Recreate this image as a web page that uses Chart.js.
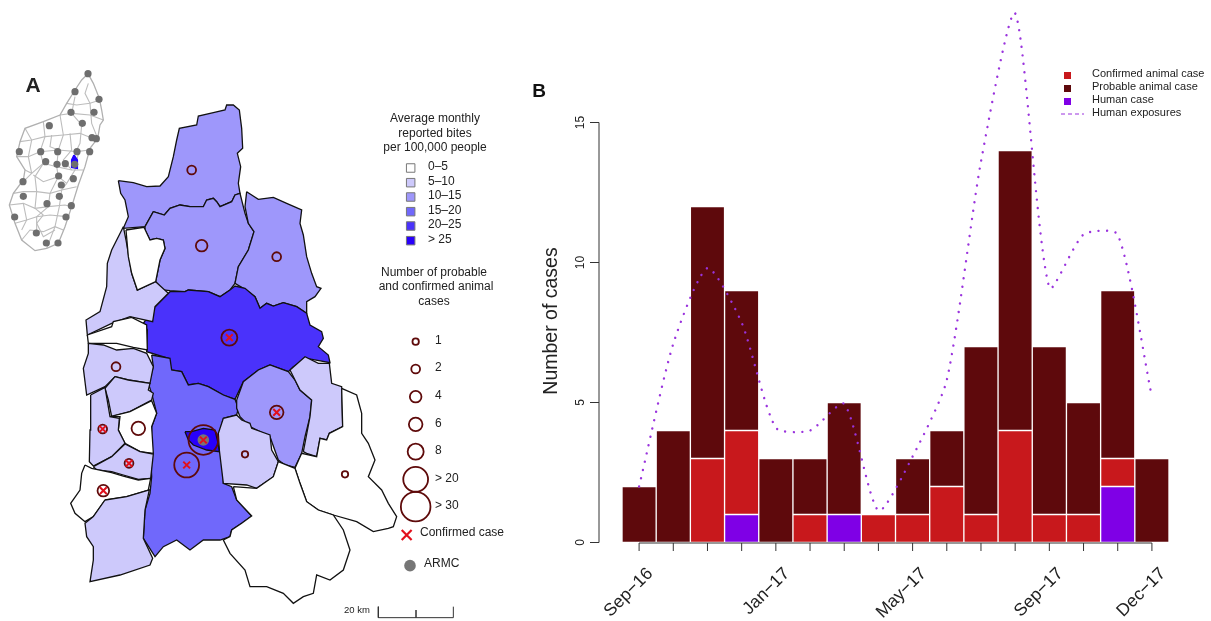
<!DOCTYPE html>
<html>
<head>
<meta charset="utf-8">
<title>Rabies cases</title>
<script src="https://cdn.jsdelivr.net/npm/chart.js@4"></script>
<style>
    html, body { margin: 0; padding: 0; background: #fff; overflow: hidden; }
    canvas { position: absolute; top: 0; }
    #mapChart { left: 0; }
    #casesChart { left: 530px; }
</style>
</head>
<body>
<canvas id="mapChart" width="530" height="621"></canvas>
<canvas id="casesChart" width="681" height="621"></canvas>
<script>
// ---- Panel B data ----
const months = ["Sep-16", "Oct-16", "Nov-16", "Dec-16", "Jan-17", "Feb-17", "Mar-17", "Apr-17",
    "May-17", "Jun-17", "Jul-17", "Aug-17", "Sep-17", "Oct-17", "Nov-17", "Dec-17"];
const humanCases = [0, 0, 0, 1, 0, 0, 1, 0, 0, 0, 0, 0, 0, 0, 2, 0];
const confirmedCases = [0, 0, 3, 3, 0, 1, 0, 1, 1, 2, 1, 4, 1, 1, 1, 0];
const probableCases = [2, 4, 9, 5, 3, 2, 4, 0, 2, 2, 6, 10, 6, 4, 6, 3];
const humanExposures = [2, 7.1, 9.8, 7.85, 4.1, 4, 4.95, 1.14, 3.07, 5.8, 13.6, 18.9, 9.1, 11, 11, 5.2];
const yTicks = [0, 5, 10, 15];
const xTickLabels = { "Sep-16": "Sep\u221216", "Jan-17": "Jan\u221217", "May-17": "May\u221217", "Sep-17": "Sep\u221217", "Dec-17": "Dec\u221217" };

// ---- Panel A data, map units (outlines) ----
const regionNorth = [[355,542],[400,548],[440,560],[480,558],[505,530],[520,470],[530,420],[538,385],[590,375],[595,348],[640,338],[675,330],[680,315],[700,315],[718,330],[725,385],[728,445],[712,460],[722,500],[715,550],[720,580],[705,585],[695,605],[660,620],[650,605],[640,595],[620,600],[610,620],[570,620],[540,615],[510,625],[493,645],[460,635],[435,680],[370,685],[385,650],[375,600],[362,580]];
const regionCentreNorth = [[460,635],[493,645],[510,625],[540,615],[570,620],[610,620],[620,600],[640,595],[650,605],[660,620],[695,605],[705,585],[720,580],[735,640],[745,670],[762,695],[745,750],[715,800],[705,850],[690,870],[660,890],[625,875],[565,870],[555,875],[510,872],[490,870],[467,845],[480,780],[495,745],[490,720],[470,715],[450,720],[435,690],[435,680]];
const regionEast = [[740,575],[755,585],[775,598],[820,592],[860,610],[905,630],[900,670],[910,705],[920,770],[935,820],[950,860],[963,865],[945,890],[920,905],[920,940],[890,920],[850,908],[820,918],[800,910],[780,925],[765,890],[730,865],[705,850],[715,800],[745,750],[762,695],[745,670],[735,620]];
const regionCentre = [[430,970],[465,920],[510,875],[555,875],[565,870],[625,875],[660,890],[690,870],[705,858],[735,865],[765,890],[780,925],[800,910],[820,918],[850,908],[890,920],[920,940],[930,975],[965,995],[970,1015],[955,1040],[985,1065],[990,1088],[920,1075],[880,1100],[865,1115],[810,1095],[775,1110],[730,1145],[705,1198],[670,1185],[625,1160],[595,1150],[565,1155],[545,1115],[510,1110],[505,1075],[440,1055],[442,990]];
const regionSouthCentre = [[455,1065],[510,1075],[515,1110],[545,1115],[565,1155],[595,1150],[625,1160],[670,1185],[705,1198],[715,1225],[710,1245],[670,1255],[658,1300],[660,1350],[670,1410],[670,1450],[695,1460],[710,1500],[755,1548],[725,1570],[695,1590],[690,1610],[660,1620],[610,1620],[570,1650],[530,1620],[490,1640],[465,1670],[430,1615],[435,1530],[450,1480],[455,1430],[452,1360],[455,1280],[470,1240],[455,1180],[445,1150],[460,1100]];
const regionCapital = [[555,1295],[575,1295],[610,1285],[645,1290],[652,1320],[658,1355],[620,1350],[580,1335],[565,1320]];
const regionEastCentral = [[710,1200],[730,1145],[775,1110],[810,1095],[865,1115],[885,1140],[900,1170],[935,1200],[930,1250],[915,1310],[905,1360],[885,1402],[855,1395],[835,1380],[810,1310],[750,1280],[720,1250],[710,1225]];
const regionInnerEast = [[670,1255],[710,1245],[725,1260],[750,1270],[755,1285],[810,1305],[815,1350],[835,1385],[820,1430],[770,1465],[740,1455],[670,1450],[658,1350],[655,1300]];
const regionCoastEast = [[870,1110],[915,1070],[955,1090],[988,1090],[995,1150],[1025,1160],[1028,1280],[988,1300],[980,1320],[960,1315],[950,1370],[920,1360],[910,1355],[930,1250],[935,1200],[900,1170],[885,1140]];
const regionFarEast = [[1025,1165],[1070,1185],[1085,1240],[1085,1300],[1105,1330],[1125,1380],[1105,1430],[1145,1470],[1165,1510],[1190,1550],[1180,1580],[1165,1585],[1120,1595],[1070,1565],[1000,1545],[955,1530],[920,1505],[900,1450],[885,1405],[905,1360],[950,1370],[960,1315],[980,1320],[988,1300],[1028,1280]];
const regionSouth = [[700,1460],[770,1465],[820,1430],[835,1385],[885,1405],[900,1450],[920,1505],[955,1530],[1000,1545],[1030,1590],[1050,1650],[1030,1710],[990,1740],[950,1725],[940,1780],[910,1790],[880,1810],[850,1780],[800,1760],[750,1760],[735,1710],[690,1660],[670,1620],[690,1610],[695,1590],[725,1570],[755,1548],[710,1500]];
const regionNorthWest = [[370,680],[378,720],[395,820],[412,870],[467,845],[505,880],[465,920],[458,965],[390,950],[335,970],[262,1005],[258,960],[300,935],[320,860],[322,790],[335,750],[355,710]];
const regionNorthWestInner = [[378,690],[432,682],[450,720],[470,715],[490,720],[495,745],[480,780],[467,845],[412,870],[395,820],[385,770]];
const regionWestBand = [[262,1005],[335,980],[340,965],[395,952],[440,975],[442,1050],[400,1042],[350,1030],[265,1030]];
const regionWestUpper = [[265,1030],[310,1035],[350,1050],[400,1045],[440,1060],[460,1100],[450,1150],[385,1140],[345,1130],[315,1160],[260,1185],[250,1105],[265,1060]];
const regionWestMiddle = [[345,1130],[385,1140],[450,1150],[445,1170],[460,1180],[455,1200],[390,1235],[335,1250],[325,1200],[315,1165]];
const regionWestInner = [[330,1250],[390,1235],[455,1202],[470,1240],[455,1280],[460,1360],[420,1355],[375,1330],[355,1290],[360,1250]];
const regionWestCoast = [[272,1185],[315,1162],[330,1250],[358,1255],[355,1290],[375,1330],[335,1370],[280,1398],[268,1385],[270,1290]];
const regionWestLower = [[280,1400],[335,1370],[375,1332],[420,1355],[460,1362],[452,1435],[415,1438],[370,1425],[335,1415],[290,1410]];
const regionSouthWest = [[255,1395],[275,1405],[335,1418],[370,1428],[415,1440],[452,1435],[445,1470],[380,1490],[315,1500],[280,1550],[255,1565],[225,1540],[212,1510],[240,1470],[245,1420]];
const regionFarSouthWest = [[315,1500],[380,1490],[448,1470],[435,1530],[430,1615],[458,1675],[450,1695],[360,1725],[270,1745],[280,1680],[280,1640],[260,1610],[255,1570],[280,1550]];

// region outline + bite-rate class (index into biteColors)
const mapRegions = [
    [regionNorth, 2], [regionCentreNorth, 2], [regionEast, 2], [regionCentre, 4],
    [regionSouthCentre, 3], [regionEastCentral, 2], [regionInnerEast, 1], [regionCoastEast, 1],
    [regionFarEast, 0], [regionSouth, 0], [regionNorthWest, 1], [regionNorthWestInner, 0],
    [regionWestBand, 0], [regionWestUpper, 1], [regionWestMiddle, 1], [regionWestInner, 0],
    [regionWestCoast, 1], [regionWestLower, 1], [regionSouthWest, 0], [regionFarSouthWest, 1],
    [regionCapital, 5]
];

const biteLabels = ["0\u20135", "5\u201310", "10\u201315", "15\u201320", "20\u201325", "> 25"];
const biteColors = ["#ffffff", "#cdc9fb", "#9e97fb", "#7068fb", "#4a32fb", "#2800fb"];

// animal cases per district
const caseX = [575, 605, 830, 688, 348, 308, 415, 387, 310, 610, 560, 830, 735, 1035];
const caseY = [510, 737, 770, 1013, 1100, 1287, 1285, 1390, 1472, 1320, 1395, 1237, 1363, 1423];
const caseCount = [2, 4, 2, 8, 2, 2, 6, 2, 4, 30, 20, 6, 1, 1];
const caseConfirmed = [0, 0, 0, 1, 0, 1, 0, 1, 1, 1, 1, 1, 0, 0];

const caseClasses = [1, 2, 4, 6, 8, 20, 30];
const caseClassLabels = ["1", "2", "4", "6", "8", "> 20", "> 30"];
const caseRadius = { 1: 3.2, 2: 4.4, 4: 5.8, 6: 6.8, 8: 8, 20: 12.4, 30: 14.8 };

// inset of the whole island
const insetOutline = [[264,221],[280,250],[298,295],[305,330],[310,360],[300,375],[293,415],[270,445],[255,500],[235,555],[215,620],[195,680],[175,730],[140,745],[105,752],[65,720],[45,670],[28,615],[40,580],[70,540],[75,510],[50,470],[60,425],[75,385],[130,365],[180,345],[200,310],[225,270],[245,240],[264,221]];
const insetDistricts = [
    [[75,385],[95,420],[85,470],[95,520],[70,545]],
    [[130,365],[135,410],[120,455],[130,490],[105,530],[110,575]],
    [[180,345],[190,405],[175,450],[170,500],[175,530],[150,580],[145,620],[110,650],[110,700]],
    [[225,290],[215,340],[245,375],[240,430],[225,460]],
    [[60,425],[95,420],[135,410],[190,405],[240,400],[290,420]],
    [[50,470],[85,470],[120,455],[175,450],[230,455],[268,450]],
    [[75,510],[95,520],[130,490],[170,500],[215,510],[250,510]],
    [[40,580],[70,575],[110,575],[150,580],[185,570],[230,560]],
    [[28,615],[70,610],[105,625],[145,620],[195,615],[215,620]],
    [[45,670],[80,660],[110,650],[150,645],[200,650]],
    [[65,720],[90,690],[130,695],[165,680],[190,690]],
    [[200,310],[230,315],[270,310],[300,300]],
    [[180,345],[215,340],[270,345],[310,360]],
    [[265,250],[255,280],[270,310],[275,370],[293,415]],
    [[235,460],[225,510],[200,550],[185,570],[178,620],[165,680],[140,745]],
    [[130,645],[110,670],[130,710],[165,690]],
    [[155,405],[150,440],[175,450]],
    [[100,525],[130,545],[175,530],[200,550]],
    [[70,610],[80,660],[65,690]],
    [[110,575],[105,625],[130,645]],
    [[210,400],[215,450],[190,480],[215,510]]
];
const insetHighlight = [[222,465],[232,480],[232,505],[213,502],[215,480]];
const armcX = [264,225,297,213,282,247,148,276,289,58,122,173,231,269,137,171,196,224,176,220,69,184,70,178,141,214,198,44,109,139,174];
const armcY = [221,275,298,337,337,370,377,413,416,455,455,455,455,455,485,493,491,493,528,536,545,555,589,589,611,617,651,651,699,729,729];
const armcMapX = [610, 1230];
const armcMapY = [1320, 1697];

const scaleBar = [[1135,1820],[1135,1853],[1248,1853],[1248,1830],[1248,1853],[1360,1853],[1360,1820]];

// Legend anchors of panel A
const swatchY = [504, 548, 591, 635, 678, 722];
const circleLegendY = [1025, 1107, 1190, 1273, 1355, 1438, 1520];

const BAR_RED = "#c8181c", BAR_DARK = "#5e090c", BAR_PURPLE = "#7f00e6", LINE_PURPLE = "#9a33dd";
const CIRCLE_RED = "#5e0a0a", TEXT_COLOR = "#222";
const FONT = '"Liberation Sans", Arial, sans-serif';

const toPoints = pts => pts.map(p => ({ x: p[0], y: p[1] }));
const closed = pts => toPoints(pts.concat([pts[0]]));

// Plain text notes of panel A
const mapNotes = [
    ["A", 33, 86, "bold 21px", "center"],
    ["Average monthly", 435, 119, "12px", "center"],
    ["reported bites", 435, 134, "12px", "center"],
    ["per 100,000 people", 435, 148, "12px", "center"],
    ["Number of probable", 434, 273, "12px", "center"],
    ["and confirmed animal", 436, 287, "12px", "center"],
    ["cases", 434, 302, "12px", "center"],
    ["Confirmed case", 420, 533, "12px", "left"],
    ["ARMC", 424, 564, "12px", "left"],
    ["20 km", 357, 610, "9.5px", "center"]
];

const mapNotesPlugin = {
    id: "mapNotes",
    afterDraw(chart) {
        const ctx = chart.ctx;
        ctx.save();
        ctx.fillStyle = TEXT_COLOR;
        ctx.textBaseline = "middle";
        mapNotes.forEach(n => {
            ctx.font = n[3] + " " + FONT;
            ctx.textAlign = n[4];
            ctx.fillText(n[0], n[1], n[2]);
        });
        ctx.font = "12px " + FONT;
        ctx.textAlign = "left";
        biteLabels.forEach((label, i) => {
            ctx.fillText(label, 428, chart.scales.y.getPixelForValue(swatchY[i]) - 1);
        });
        caseClassLabels.forEach((label, i) => {
            ctx.fillText(label, 435, chart.scales.y.getPixelForValue(circleLegendY[i]) - 1);
        });
        ctx.restore();
    }
};

// Build map datasets, first polygons, then the symbols on top
function buildMapDatasets() {
    const sets = [];
    mapRegions.forEach((region, i) => {
        sets.push({
            type: "line", data: closed(region[0]), order: 100 - i, tension: 0,
            fill: "shape", backgroundColor: biteColors[region[1]],
            borderColor: "#111", borderWidth: 1.3, pointRadius: 0
        });
    });
    sets.push({ type: "line", data: closed(insetHighlight), order: 39, tension: 0, fill: "shape",
        backgroundColor: "#2000ff", borderColor: "#2000ff", borderWidth: 1.5, pointRadius: 0 });
    insetDistricts.forEach(line => {
        sets.push({ type: "line", data: toPoints(line), order: 50, tension: 0, fill: false,
            borderColor: "#bdbdbd", borderWidth: 1.1, pointRadius: 0 });
    });
    sets.push({ type: "line", data: toPoints(insetOutline), order: 49, tension: 0, fill: false,
        borderColor: "#b0b0b0", borderWidth: 1.3, pointRadius: 0 });
    sets.push({ type: "line", data: toPoints(scaleBar), order: 10, tension: 0, fill: false,
        borderColor: "#333", borderWidth: 1, pointRadius: 0 });

    // ARMC dots
    sets.push({ type: "scatter", order: 8, data: armcX.map((x, i) => ({ x: x, y: armcY[i] })),
        pointRadius: 3.6, backgroundColor: "#6e6e6e", borderWidth: 0 });
    sets.push({ type: "scatter", order: 8, data: armcMapX.map((x, i) => ({ x: x, y: armcMapY[i] })),
        pointRadius: 5.8, backgroundColor: "#767676", borderWidth: 0 });

    // Case circles
    sets.push({ type: "scatter", order: 6, data: caseX.map((x, i) => ({ x: x, y: caseY[i] })),
        pointRadius: caseCount.map(c => caseRadius[c]), backgroundColor: "transparent",
        borderColor: CIRCLE_RED, borderWidth: 1.8 });
    sets.push({ type: "scatter", order: 6, data: caseClasses.map((c, i) => ({ x: 1247, y: circleLegendY[i] })),
        pointRadius: caseClasses.map(c => caseRadius[c]), backgroundColor: "transparent",
        borderColor: CIRCLE_RED, borderWidth: 1.8 });

    // Confirmed crosses
    const confirmedPts = caseX.map((x, i) => ({ x: x, y: caseY[i] })).filter((p, i) => caseConfirmed[i]);
    sets.push({ type: "scatter", order: 4, data: confirmedPts, pointStyle: "crossRot",
        pointRadius: 4.8, borderColor: "#e2101c", borderWidth: 2 });
    sets.push({ type: "scatter", order: 4, data: [{ x: 1220, y: 1605 }], pointStyle: "crossRot",
        pointRadius: 7, borderColor: "#e2101c", borderWidth: 2.2 });

    // Bite legend swatches
    sets.push({ type: "scatter", order: 5, data: swatchY.map(y => ({ x: 1232, y: y })), pointStyle: "rect",
        pointRadius: 6, backgroundColor: biteColors, borderColor: "#777", borderWidth: 1 });
    return sets;
}

new Chart(document.getElementById("mapChart"), {
    type: "line",
    data: { datasets: buildMapDatasets() },
    plugins: [mapNotesPlugin],
    options: {
        responsive: false,
        animation: false,
        layout: { padding: 0, autoPadding: false },
        parsing: false,
        normalized: false,
        plugins: { legend: { display: false }, tooltip: { enabled: false } },
        scales: {
            x: { type: "linear", min: 0, max: 1590, display: false },
            y: { type: "linear", min: 0, max: 1863, reverse: true, display: false }
        }
    }
});

// Base-R look axes and the legend for panel B
const casesAxesPlugin = {
    id: "casesAxes",
    afterDraw(chart) {
        const ctx = chart.ctx, xs = chart.scales.x, ys = chart.scales.y;
        const axisX = 69;
        ctx.save();
        ctx.strokeStyle = "#333";
        ctx.lineWidth = 1;
        ctx.fillStyle = TEXT_COLOR;

        // y axis
        ctx.beginPath();
        ctx.moveTo(axisX, ys.getPixelForValue(0));
        ctx.lineTo(axisX, ys.getPixelForValue(15));
        yTicks.forEach(t => {
            ctx.moveTo(axisX, ys.getPixelForValue(t));
            ctx.lineTo(axisX - 9, ys.getPixelForValue(t));
        });
        ctx.stroke();
        ctx.textAlign = "center";
        ctx.textBaseline = "middle";
        ctx.font = "12px " + FONT;
        yTicks.forEach(t => {
            ctx.save();
            ctx.translate(51, ys.getPixelForValue(t));
            ctx.rotate(-Math.PI / 2);
            ctx.fillText(String(t), 0, 0);
            ctx.restore();
        });
        ctx.save();
        ctx.translate(22, 321);
        ctx.rotate(-Math.PI / 2);
        ctx.font = "19.5px " + FONT;
        ctx.fillText("Number of cases", 0, 0);
        ctx.restore();

        // x axis
        const base = ys.getPixelForValue(0) + 0.5;
        ctx.beginPath();
        ctx.moveTo(xs.getPixelForValue(0), base);
        ctx.lineTo(xs.getPixelForValue(months.length - 1), base);
        months.forEach((m, i) => {
            ctx.moveTo(xs.getPixelForValue(i), base);
            ctx.lineTo(xs.getPixelForValue(i), base + 8);
        });
        ctx.stroke();
        ctx.font = "17.5px " + FONT;
        ctx.textAlign = "right";
        months.forEach((m, i) => {
            if (!xTickLabels[m]) return;
            ctx.save();
            ctx.translate(xs.getPixelForValue(i) + 11, base + 28);
            ctx.rotate(-Math.PI / 4);
            ctx.fillText(xTickLabels[m], 0, 0);
            ctx.restore();
        });

        // panel letter
        ctx.textAlign = "center";
        ctx.font = "bold 19px " + FONT;
        ctx.fillStyle = "#111";
        ctx.fillText("B", 9, 92);

        // legend
        ctx.font = "11px " + FONT;
        ctx.textAlign = "left";
        ctx.fillStyle = TEXT_COLOR;
        const entries = [["Confirmed animal case", BAR_RED], ["Probable animal case", BAR_DARK], ["Human case", BAR_PURPLE]];
        entries.forEach((e, i) => {
            const y = 74 + i * 13;
            ctx.fillStyle = e[1];
            ctx.fillRect(534, y - 2, 7, 7);
            ctx.fillStyle = TEXT_COLOR;
            ctx.fillText(e[0], 562, y);
        });
        ctx.fillText("Human exposures", 562, 113);
        ctx.strokeStyle = LINE_PURPLE;
        ctx.setLineDash([4, 3]);
        ctx.beginPath();
        ctx.moveTo(531, 114);
        ctx.lineTo(554, 114);
        ctx.stroke();
        ctx.restore();
    }
};

const barStyle = { type: "bar", borderColor: "rgba(255,255,255,0.7)", borderWidth: 1, borderSkipped: false,
    barPercentage: 1, categoryPercentage: 1, stack: "cases", order: 2 };

new Chart(document.getElementById("casesChart"), {
    data: {
        labels: months,
        datasets: [
            { ...barStyle, label: "Human case", data: humanCases.map(v => v || null), backgroundColor: BAR_PURPLE },
            { ...barStyle, label: "Confirmed animal case", data: confirmedCases.map(v => v || null), backgroundColor: BAR_RED },
            { ...barStyle, label: "Probable animal case", data: probableCases.map(v => v || null), backgroundColor: BAR_DARK },
            {
                type: "line", label: "Human exposures", data: humanExposures, order: 1,
                borderColor: LINE_PURPLE, borderWidth: 2.4, borderDash: [0.01, 8.5], borderCapStyle: "round",
                tension: 0.22, pointRadius: 0, fill: false, clip: false
            }
        ]
    },
    plugins: [casesAxesPlugin],
    options: {
        responsive: false,
        animation: false,
        layout: { padding: { left: 92, right: 42, top: 0, bottom: 78.5 } },
        plugins: { legend: { display: false }, tooltip: { enabled: false } },
        scales: {
            x: { type: "category", offset: true, display: false, stacked: true },
            y: { type: "linear", min: 0, max: 19.375, display: false, stacked: true }
        }
    }
});
</script>
</body>
</html>
